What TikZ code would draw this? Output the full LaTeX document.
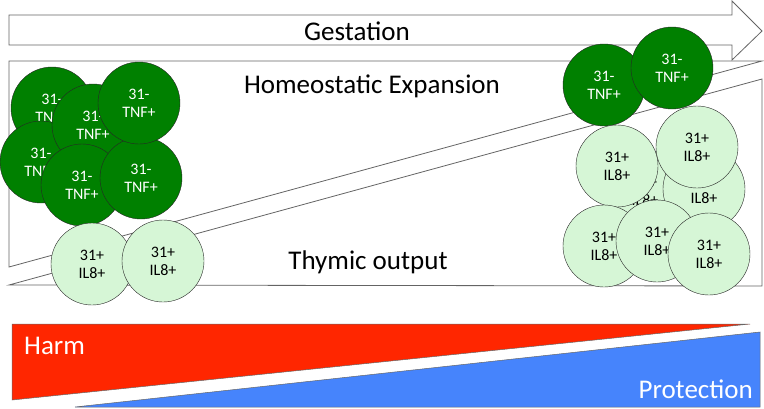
\documentclass[tikz,border=0pt]{standalone}
\usepackage{fontspec}
\setmainfont{Carlito}
\usepackage{tikz}

\definecolor{cellgreen}{RGB}{0,128,0}
\definecolor{palegreen}{RGB}{214,246,214}
\definecolor{harmred}{RGB}{255,38,0}
\definecolor{protblue}{RGB}{70,132,252}
\definecolor{edgegray}{RGB}{100,100,100}

\tikzset{
  tnfcell/.style={circle,draw=black!85,fill=cellgreen,text=white,minimum size=82pt,
    inner sep=0pt,align=center,font=\fontsize{16}{18}\selectfont},
  ilcell/.style={tnfcell,fill=palegreen,text=black},
  band/.style={draw=edgegray,line width=0.8pt,line join=miter},
  bigtext/.style={font=\fontsize{27}{30}\selectfont}
}

\begin{document}
\begin{tikzpicture}[x=1pt,y=-1pt]
	\useasboundingbox (0,0) rectangle (764,408);
	% gestation arrow
	\draw[band,fill=white] (9,15) -- (732,15) -- (732,1) -- (762,31) -- (732,60) -- (732,45) -- (9,45) -- cycle;
	\node[bigtext] (gest) at (357,31) {Gestation};
	
	% the two wedges
	\draw[band] (9,61) -- (762,61) -- (9,267) -- cycle;
	\draw[band] (9,285) -- (762,79) -- (762,286) -- cycle;
	\node[bigtext] (homeo) at (372,86) {Homeostatic Expansion};
	\node[bigtext] (thymic) at (368,262) {Thymic output};
	
	% early cells
	\foreach \n/\x/\y in {1/52/108, 2/41/162, 3/93/125, 4/82/185, 5/141/178, 6/139/103}{
		\node[tnfcell] (t\n) at (\x,\y) {31-\\TNF+};
	}
	\foreach \n/\x/\y in {1/92/264, 2/163/261}{
		\node[ilcell] (i\n) at (\x,\y) {31+\\IL8+};
	}
	
	% late cells
	\foreach \n/\x/\y in {7/604/85, 8/672/68}{
		\node[tnfcell] (t\n) at (\x,\y) {31-\\TNF+};
	}
	\foreach \n/\x/\y in {3/645/191, 4/704/189, 5/617/166, 6/697/147, 7/604/246, 8/657/241, 9/709/254}{
		\node[ilcell] (i\n) at (\x,\y) {31+\\IL8+};
	}
	
	% harm / protection
	\draw[fill=harmred,draw=black!60,line width=0.5pt] (12,324) -- (750,324) -- (12,400) -- cycle;
	\draw[fill=protblue,draw=black!60,line width=0.5pt] (75,407) -- (760,332) -- (760,407) -- cycle;
	\node[bigtext,text=white,anchor=base west,inner sep=0pt] (harm) at (24,354) {Harm};
	\node[bigtext,text=white,anchor=base east,inner sep=0pt] (prot) at (753,398) {Protection};
\end{tikzpicture}
\end{document}
